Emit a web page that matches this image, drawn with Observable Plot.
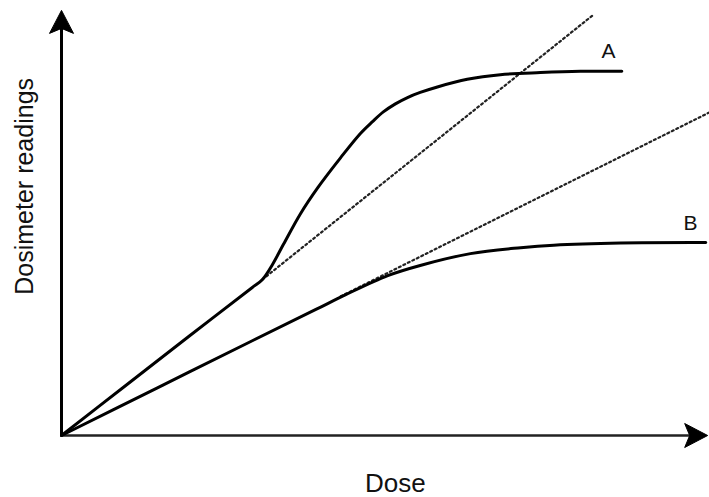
<!DOCTYPE html>
<html>
<head>
<meta charset="utf-8">
<script src="https://cdn.jsdelivr.net/npm/d3@7"></script>
<script src="https://cdn.jsdelivr.net/npm/@observablehq/plot@0.6"></script>
<style>
  html, body { margin: 0; padding: 0; background: #fff; }
  #chart svg { display: block; }
</style>
</head>
<body>
<div id="chart"></div>
<script>
// Dose (arbitrary units 0-10) and dosimeter readings (arbitrary units 0-10)
const curveADose    = [0, 1.0, 2.0, 3.0, 3.16, 3.32, 3.49, 3.76, 4.03, 4.39, 4.70, 4.89, 5.06, 5.25, 5.44, 5.64, 5.91, 6.38, 6.90, 7.53, 8.16, 8.81];
const curveAReading = [0, 1.17, 2.34, 3.50, 3.69, 4.05, 4.52, 5.25, 5.86, 6.57, 7.14, 7.42, 7.65, 7.84, 7.99, 8.11, 8.24, 8.42, 8.53, 8.58, 8.61, 8.61];

const curveBDose    = [0, 1.5, 3.0, 4.0, 4.47, 5.13, 5.64, 6.43, 7.22, 7.74, 8.79, 10.13];
const curveBReading = [0, 1.12, 2.24, 2.98, 3.33, 3.78, 4.02, 4.30, 4.44, 4.50, 4.55, 4.56];

// Linear (ideal) extrapolations
const linearADose    = [3.16, 8.35];
const linearAReading = [3.69, 9.93];
const linearBDose    = [4.39, 10.19];
const linearBReading = [3.29, 7.64];

const seriesLabels = ["A", "B"];
const xAxisLabel = "Dose";
const yAxisLabel = "Dosimeter readings";
const axisEnds = {x: 10.16, y: 10.05};

const toPoints = (xs, ys) => xs.map((x, i) => ({x, y: ys[i]}));
const A = toPoints(curveADose, curveAReading);
const B = toPoints(curveBDose, curveBReading);
const LA = toPoints(linearADose, linearAReading);
const LB = toPoints(linearBDose, linearBReading);

// Filled notched arrowhead pointing up, tip at origin
const arrowHead = {
  draw(ctx) {
    ctx.moveTo(0, 0);
    ctx.lineTo(12, 23);
    ctx.lineTo(0, 18);
    ctx.lineTo(-12, 23);
    ctx.closePath();
  }
};

const font = "'Liberation Sans', Arial, sans-serif";

const chart = Plot.plot({
  width: 709,
  height: 497,
  marginLeft: 61,
  marginRight: 12,
  marginTop: 12,
  marginBottom: 62,
  x: {domain: [0, 10], axis: null},
  y: {domain: [0, 10], axis: null},
  style: {fontFamily: font, background: "#fff"},
  marks: [
    // axes
    Plot.ruleX([0], {y1: 0, y2: axisEnds.y - 0.3, stroke: "black", strokeWidth: 3}),
    Plot.ruleY([0], {x1: 0, x2: axisEnds.x - 0.2, stroke: "#222", strokeWidth: 2.5}),
    Plot.dot([{x: 0, y: axisEnds.y}], {x: "x", y: "y", symbol: arrowHead, fill: "black", stroke: "black", strokeWidth: 1, rotate: 0}),
    Plot.dot([{x: axisEnds.x, y: 0}], {x: "x", y: "y", symbol: arrowHead, fill: "black", stroke: "black", strokeWidth: 1, rotate: 90}),
    // dotted linear extrapolations
    Plot.line(LA, {x: "x", y: "y", stroke: "#222", strokeWidth: 2.2, strokeDasharray: "2,3"}),
    Plot.line(LB, {x: "x", y: "y", stroke: "#222", strokeWidth: 2.2, strokeDasharray: "2,3"}),
    // response curves
    Plot.line(A, {x: "x", y: "y", curve: "catmull-rom", stroke: "black", strokeWidth: 3}),
    Plot.line(B, {x: "x", y: "y", curve: "catmull-rom", stroke: "black", strokeWidth: 3}),
    // series labels
    Plot.text([seriesLabels[0]], {x: 8.60, y: 9.09, text: d => d, fontSize: 21, fill: "#111", lineAnchor: "middle"}),
    Plot.text([seriesLabels[1]], {x: 9.89, y: 5.01, text: d => d, fontSize: 21, fill: "#111", lineAnchor: "middle"}),
    // axis titles
    Plot.text([xAxisLabel], {x: 5.25, y: -1.15, text: d => d, fontSize: 26, fill: "#111", lineAnchor: "middle"}),
    Plot.text([yAxisLabel], {x: -0.58, y: 5.89, text: d => d, fontSize: 25, fill: "#111", rotate: -90, lineAnchor: "middle"})
  ]
});

document.getElementById("chart").appendChild(chart);
</script>
</body>
</html>
